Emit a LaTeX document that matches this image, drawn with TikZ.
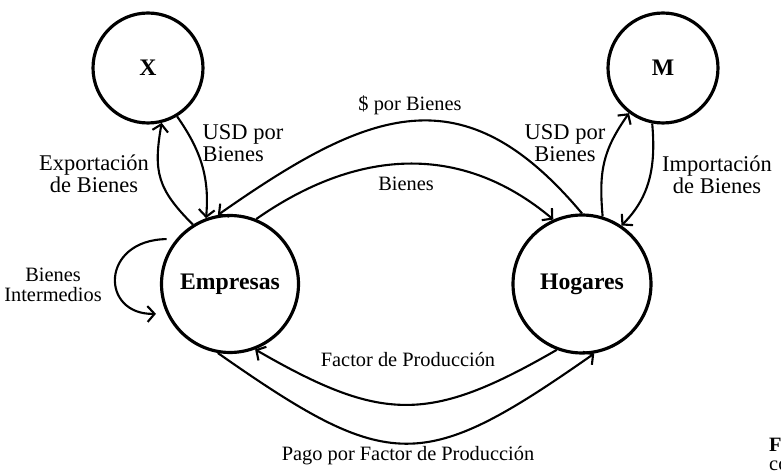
\documentclass[tikz,border=0pt]{standalone}
\usepackage{fontspec}
\setmainfont{Liberation Serif}
\usepackage{tikz}
\usetikzlibrary{arrows.meta, positioning, calc}

\begin{document}
\begin{tikzpicture}[
  x=0.02cm, y=-0.02cm,
  agent/.style={draw, circle, line width=1.8pt, inner sep=0pt,
                font=\fontsize{13.5}{15}\selectfont\bfseries},
  arrow/.style={-{Straight Barb[length=4pt, width=9pt]}, line width=1.2pt},
  biglabel/.style={align=center, font=\fontsize{12.8}{12.5}\selectfont},
  smalllabel/.style={align=center, font=\fontsize{11.6}{11}\selectfont},
]
\useasboundingbox (0,0) rectangle (781,472);

\node[agent, minimum size=2.2cm]  (x)   at (148,68)  {X};
\node[agent, minimum size=2.2cm]  (m)   at (663,68)  {M};
\node[agent, minimum size=2.74cm] (emp) at (230,284) {Empresas};
\node[agent, minimum size=2.76cm] (hog) at (582,284) {Hogares};

\draw[arrow] (emp.122) to[out=135, in=-100, looseness=1.2] (x.-76);
\draw[arrow] (x.-59) to[out=-55, in=85] (emp.110);
\draw[arrow] (hog.90) to[out=130, in=35, looseness=1.3] (emp.100);
\draw[arrow] (emp.68) to[out=35, in=140, looseness=1.05] (hog.114);
\draw[arrow] (hog.73) to[out=95, in=-125, looseness=1.1] (m.-127);
\draw[arrow] (m.-101) to[out=-85, in=45] (hog.56);
\draw[arrow, shorten <=5.5pt, shorten >=6pt]
  (emp.140) .. controls (100,240) and (100,315) .. (emp.205);
\draw[arrow] (hog.-111) to[out=-150, in=-30, looseness=1.25] (emp.-69);
\draw[arrow] (emp.-100) to[out=-35, in=-145, looseness=1.43] (hog.-80);

\node[biglabel] (exp) at (94,174) {Exportación\\de Bienes};
\node[biglabel, align=left] (usdx) at (243,143) {USD por\\Bienes};
\node[biglabel] (usdm) at (565,143) {USD por\\Bienes};
\node[biglabel] (imp) at (717,175) {Importación\\de Bienes};
\node[smalllabel] (pesos) at (410,105) {\$ por Bienes};
\node[smalllabel] (bienes) at (406,184) {Bienes};
\node[smalllabel] (interm) at (53,285) {Bienes\\Intermedios};
\node[smalllabel] (factor) at (408,360) {Factor de Producción};
\node[smalllabel] (pago) at (408,456) {Pago por Factor de Producción};

\node[smalllabel, anchor=base west] (fig) at (763,452) {\textbf{Fi}};
\node[smalllabel, anchor=base west] (figcont) at (763,471) {co};
\end{tikzpicture}
\end{document}
